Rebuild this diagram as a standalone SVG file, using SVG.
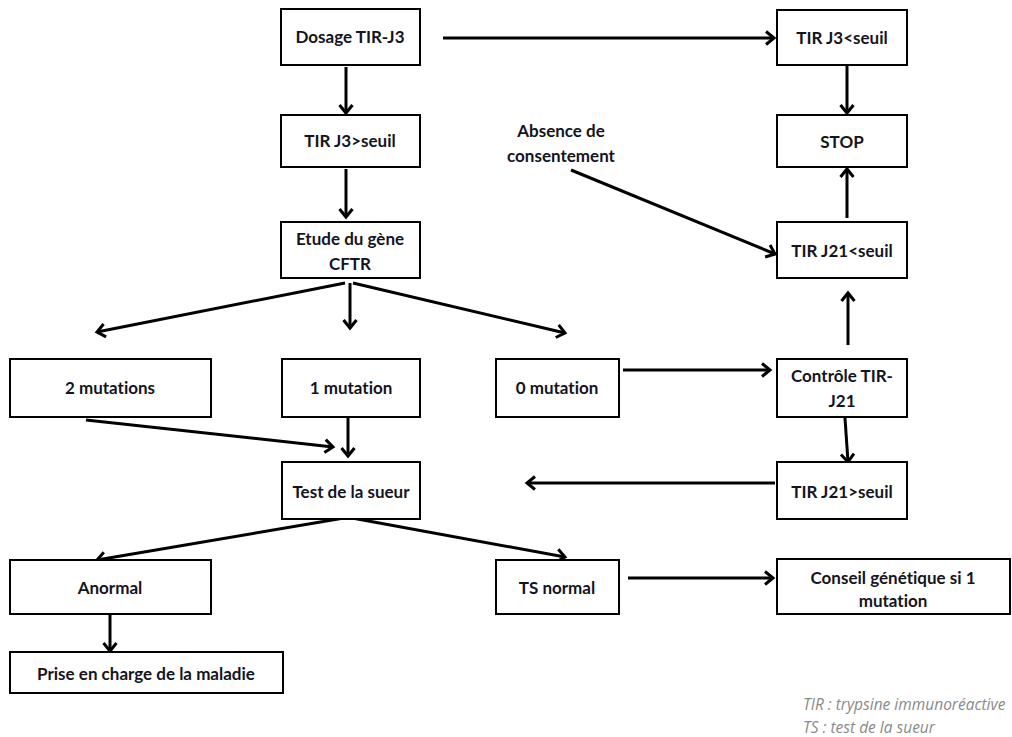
<svg xmlns="http://www.w3.org/2000/svg" width="1012" height="737" viewBox="0 0 1012 737">
<style>
.box{fill:#fff;stroke:#000;stroke-width:2}
.t{font-family:Lato,"Liberation Sans",sans-serif;font-weight:bold;font-size:17px;fill:#141421;text-anchor:middle;font-variant-ligatures:none}
.c{fill:none;stroke:#000;stroke-width:3;marker-end:url(#ah)}
.leg{font-family:"Open Sans","Liberation Sans",sans-serif;font-style:italic;font-size:15.5px;fill:#8a8a8a}
</style>
<defs>
<marker id="ah" markerUnits="userSpaceOnUse" markerWidth="16" markerHeight="16" refX="10" refY="8" orient="auto">
<path d="M2,1.5 L10,8 L2,14.5" fill="none" stroke="#000" stroke-width="3"/>
</marker>
</defs>
<rect width="1012" height="737" fill="#fff"/>
<g id="connectors">
<path class="c" d="M346,67 L346,113"/>
<path class="c" d="M346,169 L346,217"/>
<path class="c" d="M443,38 L774,38"/>
<path class="c" d="M847,66 L847,113"/>
<path class="c" d="M847,218 L847,169"/>
<path class="c" d="M571,170 L775,254"/>
<path class="c" d="M345,283 L97,332"/>
<path class="c" d="M350,283 L350,328"/>
<path class="c" d="M353,283 L565,333"/>
<path class="c" d="M848,345 L848,293"/>
<path class="c" d="M623,370 L770,370"/>
<path class="c" d="M86,420 L333,447"/>
<path class="c" d="M348,418 L348,456"/>
<path class="c" d="M845,418 L848,462"/>
<path class="c" d="M775,483 L527,483"/>
<path class="c" d="M344,518 L97,560"/>
<path class="c" d="M352,518 L565,557"/>
<path class="c" d="M628,578 L773,578"/>
<path class="c" d="M110,614 L110,651"/>
</g>
<g id="n-dosage"><rect class="box" x="281" y="9" width="139" height="56"/><text class="t" x="350" y="43">Dosage TIR-J3</text></g>
<g id="n-j3sup"><rect class="box" x="281" y="115" width="139" height="52"/><text class="t" x="350" y="147">TIR J3&gt;seuil</text></g>
<g id="n-etude"><rect class="box" x="281" y="222" width="139" height="56"/><text class="t" x="350" y="245">Etude du gène</text><text class="t" x="350" y="270">CFTR</text></g>
<g id="n-j3inf"><rect class="box" x="777" y="10" width="130" height="55"/><text class="t" x="842" y="44">TIR J3&lt;seuil</text></g>
<g id="n-stop"><rect class="box" x="777" y="115" width="130" height="52"/><text class="t" x="842" y="148">STOP</text></g>
<g id="n-absence"><text class="t" x="561" y="137">Absence de</text><text class="t" x="561" y="162">consentement</text></g>
<g id="n-j21inf"><rect class="box" x="777" y="222" width="130" height="56"/><text class="t" x="842" y="257">TIR J21&lt;seuil</text></g>
<g id="n-2mut"><rect class="box" x="10" y="359" width="201" height="58"/><text class="t" x="110" y="394">2 mutations</text></g>
<g id="n-1mut"><rect class="box" x="282" y="359" width="138" height="58"/><text class="t" x="351" y="394">1 mutation</text></g>
<g id="n-0mut"><rect class="box" x="496" y="359" width="123" height="58"/><text class="t" x="557" y="394">0 mutation</text></g>
<g id="n-controle"><rect class="box" x="777" y="359" width="130" height="58"/><text class="t" x="842" y="382">Contrôle TIR-</text><text class="t" x="842" y="407">J21</text></g>
<g id="n-test"><rect class="box" x="282" y="462" width="138" height="57"/><text class="t" x="351" y="498">Test de la sueur</text></g>
<g id="n-j21sup"><rect class="box" x="777" y="462" width="130" height="57"/><text class="t" x="842" y="498">TIR J21&gt;seuil</text></g>
<g id="n-anormal"><rect class="box" x="10" y="560" width="201" height="54"/><text class="t" x="110" y="594">Anormal</text></g>
<g id="n-tsnormal"><rect class="box" x="496" y="560" width="123" height="54"/><text class="t" x="557" y="594">TS normal</text></g>
<g id="n-conseil"><rect class="box" x="777" y="559" width="233" height="55"/><text class="t" x="893" y="584">Conseil génétique si 1</text><text class="t" x="893" y="607">mutation</text></g>
<g id="n-prise"><rect class="box" x="10" y="652" width="273" height="41"/><text class="t" x="146" y="680">Prise en charge de la maladie</text></g>
<g id="legend"><text class="leg" x="803" y="710">TIR : trypsine immunoréactive</text><text class="leg" x="803" y="733">TS : test de la sueur</text></g>
</svg>
